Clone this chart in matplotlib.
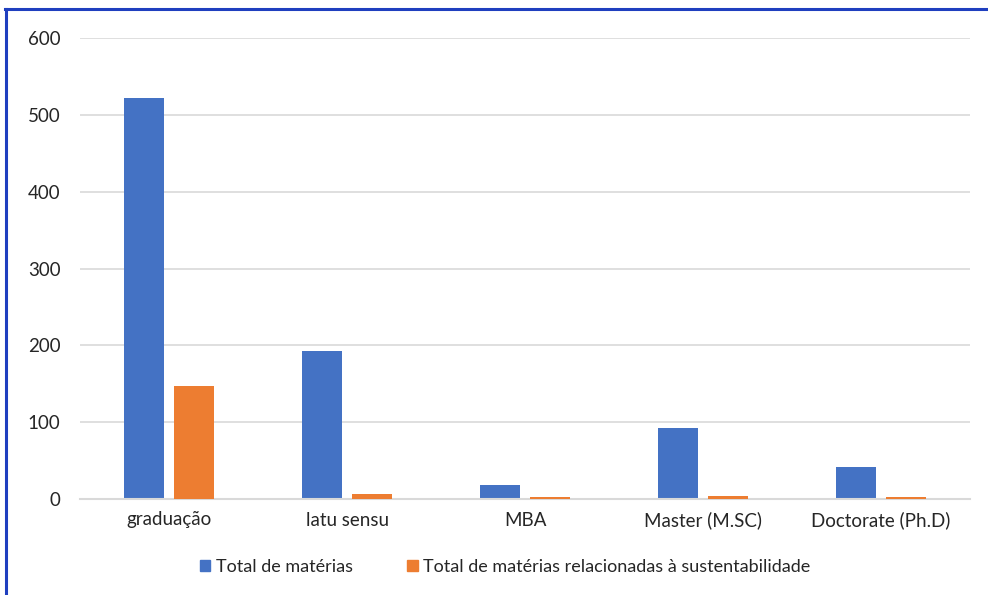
import matplotlib

matplotlib.use("Agg")
import matplotlib.pyplot as plt
from matplotlib.lines import Line2D
from matplotlib.patches import Patch
import numpy as np

categories = ["graduação", "latu sensu", "MBA", "Master (M.SC)", "Doctorate (Ph.D)"]
total_materias = [522, 193, 18, 92, 42]
total_sustentabilidade = [147, 6, 2, 4, 2]
y_ticks = [0, 100, 200, 300, 400, 500, 600]

BLUE = "#4472C4"
ORANGE = "#ED7D31"
GRID = "#D9D9D9"
TEXT = "#262626"

plt.rcParams["font.family"] = ["Lato", "DejaVu Sans"]

fig = plt.figure(figsize=(9.88, 5.95), dpi=100)
ax = fig.add_axes([80 / 988, 1 - 499 / 595, 890 / 988, 461 / 595])

x = np.arange(len(categories))
width = 0.225
ax.bar(x - 0.143, total_materias, width, color=BLUE, zorder=3)
ax.bar(x + 0.143, total_sustentabilidade, width, color=ORANGE, zorder=5)

ax.set_xlim(-0.5, len(categories) - 0.5)
ax.set_ylim(0, 600)
ax.set_yticks(y_ticks)
ax.set_xticks(x)
ax.set_xticklabels(categories)
ax.tick_params(axis="both", length=0, labelsize=13.5, colors=TEXT)
ax.tick_params(axis="y", pad=14)
ax.tick_params(axis="x", pad=9)
ax.yaxis.grid(True, color=GRID, linewidth=1.2, zorder=0)
for side in ["top", "right", "left"]:
    ax.spines[side].set_visible(False)
ax.spines["bottom"].set_color(GRID)
ax.spines["bottom"].set_linewidth(1.5)
ax.spines["bottom"].set_zorder(4)

handles = [
    Patch(color=BLUE, label="Total de matérias"),
    Patch(color=ORANGE, label="Total de matérias relacionadas à sustentabilidade"),
]
fig.legend(
    handles=handles,
    loc="center",
    bbox_to_anchor=(505 / 988, 1 - 567 / 595),
    ncol=2,
    frameon=False,
    fontsize=13,
    handlelength=0.6,
    handleheight=0.6,
    handletextpad=0.3,
    columnspacing=3.0,
    labelcolor=TEXT,
)

# frame edges along the top and left
fig.add_artist(Line2D([5 / 988, 1], [1 - 9 / 595, 1 - 9 / 595],
                      transform=fig.transFigure, color="#1F3FBF", linewidth=2.2))
fig.add_artist(Line2D([6 / 988, 6 / 988], [0, 1 - 9 / 595],
                      transform=fig.transFigure, color="#1F3FBF", linewidth=2.2))

fig.savefig("out.png", dpi=100)
